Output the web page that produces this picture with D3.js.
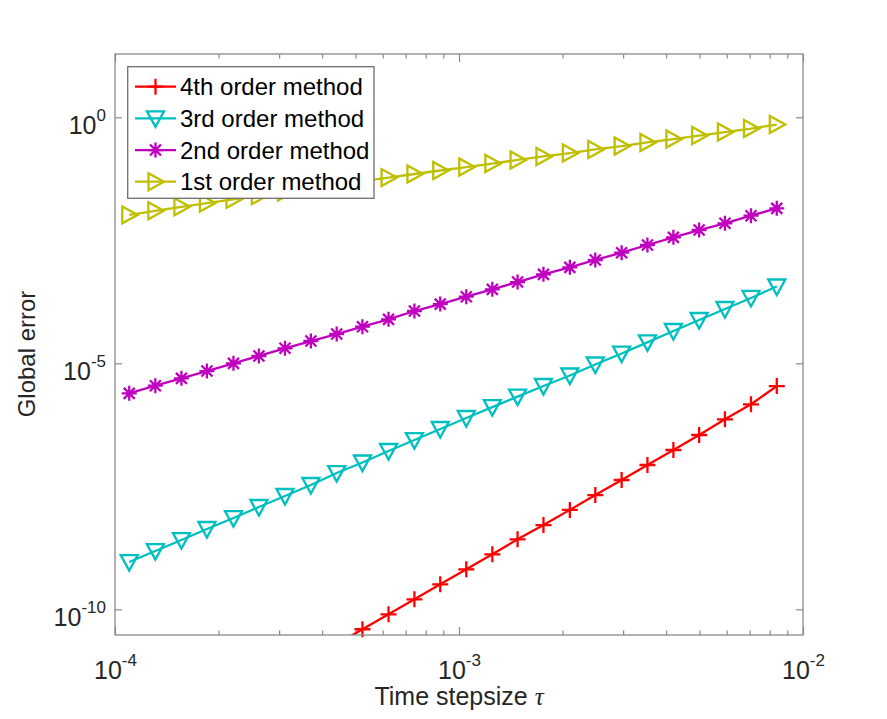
<!DOCTYPE html>
<html>
<head>
<meta charset="utf-8">
<script src="https://cdn.jsdelivr.net/npm/d3@7"></script>
<style>
  html, body { margin: 0; padding: 0; background: #fff; }
  svg { display: block; font-family: "Liberation Sans", Arial, Helvetica, sans-serif; }
</style>
</head>
<body>
<script>
// time step sizes (largest first)
const tau = [8.39e-3, 7.06e-3, 5.93e-3, 4.99e-3, 4.20e-3, 3.53e-3, 2.97e-3, 2.49e-3,
  2.10e-3, 1.76e-3, 1.48e-3, 1.25e-3, 1.05e-3, 8.82e-4, 7.42e-4, 6.24e-4, 5.24e-4,
  4.41e-4, 3.71e-4, 3.12e-4, 2.62e-4, 2.21e-4, 1.85e-4, 1.56e-4, 1.31e-4, 1.10e-4];

const err4th = [3.44e-6, 1.47e-6, 7.28e-7, 3.49e-7, 1.73e-7, 8.57e-8, 4.25e-8, 2.10e-8,
  1.05e-8, 5.16e-9, 2.65e-9, 1.31e-9, 6.50e-10, 3.22e-10, 1.60e-10, 7.91e-11, 3.93e-11,
  1.95e-11, 9.7e-12, 4.8e-12, 2.4e-12, 1.2e-12, 6.0e-13, 3.0e-13, 1.5e-13, 7.4e-14];

const err3rd = [3.64e-4, 2.13e-4, 1.27e-4, 7.59e-5, 4.54e-5, 2.67e-5, 1.58e-5, 9.46e-6,
  5.65e-6, 3.46e-6, 2.11e-6, 1.29e-6, 7.73e-7, 4.62e-7, 2.76e-7, 1.65e-7, 9.64e-8,
  5.89e-8, 3.36e-8, 2.01e-8, 1.20e-8, 7.17e-9, 4.29e-9, 2.56e-9, 1.53e-9, 9.14e-10];

const err2nd = [1.413e-2, 1.0e-2, 7.01e-3, 5.12e-3, 3.64e-3, 2.54e-3, 1.77e-3, 1.26e-3,
  8.94e-4, 6.44e-4, 4.49e-4, 3.19e-4, 2.26e-4, 1.60e-4, 1.156e-4, 7.84e-5, 5.55e-5,
  3.94e-5, 2.84e-5, 2.02e-5, 1.41e-5, 1.0e-5, 6.97e-6, 4.95e-6, 3.51e-6, 2.45e-6];

const err1st = [0.714, 0.591, 0.502, 0.426, 0.362, 0.308, 0.261, 0.222, 0.188, 0.160,
  0.136, 0.115, 0.0977, 0.0830, 0.0705, 0.0596, 0.0503, 0.0425, 0.0359, 0.0303,
  0.0256, 0.0216, 0.0181, 0.0152, 0.0126, 0.0104];

const legendLabels = ["4th order method", "3rd order method", "2nd order method", "1st order method"];

const xTickValues = [1e-4, 1e-3, 1e-2];
const xMinorTicks = [2e-4, 3e-4, 4e-4, 5e-4, 6e-4, 7e-4, 8e-4, 9e-4,
  2e-3, 3e-3, 4e-3, 5e-3, 6e-3, 7e-3, 8e-3, 9e-3];
const yTickValues = [1e-10, 1e-5, 1e0];

const width = 887, height = 719;
const margin = {top: 54, right: 84, bottom: 84, left: 115};

const x = d3.scaleLog()
    .domain([1e-4, 1e-2])
    .range([margin.left, width - margin.right]);

const y = d3.scaleLog()
    .domain([Math.pow(10, -10.522), Math.pow(10, 1.287)])
    .range([height - margin.bottom, margin.top]);

const markers = {
  plus: "M-8,0H8M0,-8V8",
  triDown: "M-8.5,-7H8.5L0,8.5Z",
  triRight: "M-7,-8.5V8.5L8.5,0Z",
  star: "M-7.5,0H7.5M0,-7.5V7.5M-5.5,-5.5L5.5,5.5M-5.5,5.5L5.5,-5.5"
};

const series = [
  {label: legendLabels[0], values: err4th, color: "#ff0000", marker: "plus"},
  {label: legendLabels[1], values: err3rd, color: "#00bfbf", marker: "triDown"},
  {label: legendLabels[2], values: err2nd, color: "#bf00bf", marker: "star"},
  {label: legendLabels[3], values: err1st, color: "#bfbf00", marker: "triRight"}
];

const svg = d3.select("body").append("svg")
    .attr("width", width)
    .attr("height", height);

svg.append("rect").attr("width", width).attr("height", height).attr("fill", "#fff");

svg.append("clipPath").attr("id", "plot-clip")
  .append("rect")
    .attr("x", margin.left)
    .attr("y", margin.top)
    .attr("width", width - margin.left - margin.right)
    .attr("height", height - margin.top - margin.bottom);

const axisColor = "#8a8a8a";
const textColor = "#262626";

function styleAxis(g) {
  g.select(".domain").remove();
  g.selectAll(".tick line").attr("stroke", axisColor).attr("stroke-width", 1.2);
}

function superLabels(g) {
  g.selectAll(".tick text").each(function(d) {
    const t = d3.select(this);
    t.text(null).attr("fill", textColor).attr("font-size", 25);
    t.append("tspan").text("10");
    t.append("tspan")
        .attr("dy", -12.5)
        .attr("font-size", 17)
        .text(String(Math.round(Math.log10(d))));
  });
}

// bottom axis
svg.append("g")
    .attr("transform", `translate(0,${height - margin.bottom})`)
    .call(d3.axisBottom(x).tickValues(xMinorTicks).tickSizeInner(-4.5).tickSizeOuter(0).tickFormat(""))
    .call(styleAxis);
svg.append("g")
    .attr("transform", `translate(0,${height - margin.bottom})`)
    .call(d3.axisBottom(x).tickValues(xTickValues).tickSizeInner(-8).tickSizeOuter(0))
    .call(styleAxis)
    .call(superLabels)
    .call(g => g.selectAll(".tick text").attr("y", 43.5).attr("dy", 0));

// top axis
svg.append("g")
    .attr("transform", `translate(0,${margin.top})`)
    .call(d3.axisTop(x).tickValues(xMinorTicks).tickSizeInner(-4.5).tickSizeOuter(0).tickFormat(""))
    .call(styleAxis);
svg.append("g")
    .attr("transform", `translate(0,${margin.top})`)
    .call(d3.axisTop(x).tickValues(xTickValues).tickSizeInner(-8).tickSizeOuter(0).tickFormat(""))
    .call(styleAxis);

// left axis
svg.append("g")
    .attr("transform", `translate(${margin.left},0)`)
    .call(d3.axisLeft(y).tickValues(yTickValues).tickSizeInner(-7).tickSizeOuter(0).tickPadding(9))
    .call(styleAxis)
    .call(superLabels)
    .call(g => g.selectAll(".tick text").attr("dy", 16));

// right axis
svg.append("g")
    .attr("transform", `translate(${width - margin.right},0)`)
    .call(d3.axisRight(y).tickValues(yTickValues).tickSizeInner(-7).tickSizeOuter(0).tickFormat(""))
    .call(styleAxis);

// series lines
const line = d3.line()
    .x((d, i) => x(tau[i]))
    .y(d => y(d));

const plot = svg.append("g");

series.forEach(s => {
  plot.append("path")
      .datum(s.values)
      .attr("clip-path", "url(#plot-clip)")
      .attr("fill", "none")
      .attr("stroke", s.color)
      .attr("stroke-width", 2.3)
      .attr("stroke-linejoin", "round")
      .attr("d", line);

  const [ylo, yhi] = y.domain();
  plot.append("g")
    .selectAll("path")
    .data(s.values.map((v, i) => [tau[i], v]).filter(d => d[1] >= ylo && d[1] <= yhi))
    .join("path")
      .attr("transform", d => `translate(${x(d[0])},${y(d[1])})`)
      .attr("d", markers[s.marker])
      .attr("fill", "none")
      .attr("stroke", s.color)
      .attr("stroke-width", 2.3)
      .attr("stroke-linejoin", "miter");
});

// axes box
svg.append("rect")
    .attr("x", margin.left)
    .attr("y", margin.top)
    .attr("width", width - margin.left - margin.right)
    .attr("height", height - margin.top - margin.bottom)
    .attr("fill", "none")
    .attr("stroke", axisColor)
    .attr("stroke-width", 1.3);

// axis labels
svg.append("text")
    .attr("x", (margin.left + width - margin.right) / 2)
    .attr("y", 705)
    .attr("text-anchor", "middle")
    .attr("font-size", 25)
    .attr("fill", textColor)
    .call(t => {
      t.append("tspan").text("Time stepsize ");
      t.append("tspan")
          .attr("font-family", "'Liberation Serif', 'DejaVu Serif', serif")
          .attr("font-style", "italic")
          .text("τ");
    });

svg.append("text")
    .attr("transform", "translate(35,354) rotate(-90)")
    .attr("text-anchor", "middle")
    .attr("font-size", 24)
    .attr("fill", textColor)
    .text("Global error");

// legend
const legend = svg.append("g");
legend.append("rect")
    .attr("x", 127.7)
    .attr("y", 66.7)
    .attr("width", 246.3)
    .attr("height", 131.6)
    .attr("fill", "#fff")
    .attr("stroke", "#6e6e6e")
    .attr("stroke-width", 1.3);

const legendY = d3.scalePoint().domain(legendLabels).range([86.7, 181.7]);

const item = legend.selectAll(".item")
  .data(series)
  .join("g")
    .attr("class", "item")
    .attr("transform", d => `translate(0,${legendY(d.label)})`);

item.append("line")
    .attr("x1", 135).attr("x2", 176)
    .attr("stroke", d => d.color)
    .attr("stroke-width", 2.3);

item.append("path")
    .attr("transform", "translate(155.5,0)")
    .attr("d", d => markers[d.marker])
    .attr("fill", "none")
    .attr("stroke", d => d.color)
    .attr("stroke-width", 2.3);

item.append("text")
    .attr("x", 180)
    .attr("y", 8.5)
    .attr("font-size", 24)
    .attr("fill", "#000")
    .text(d => d.label);
</script>
</body>
</html>
